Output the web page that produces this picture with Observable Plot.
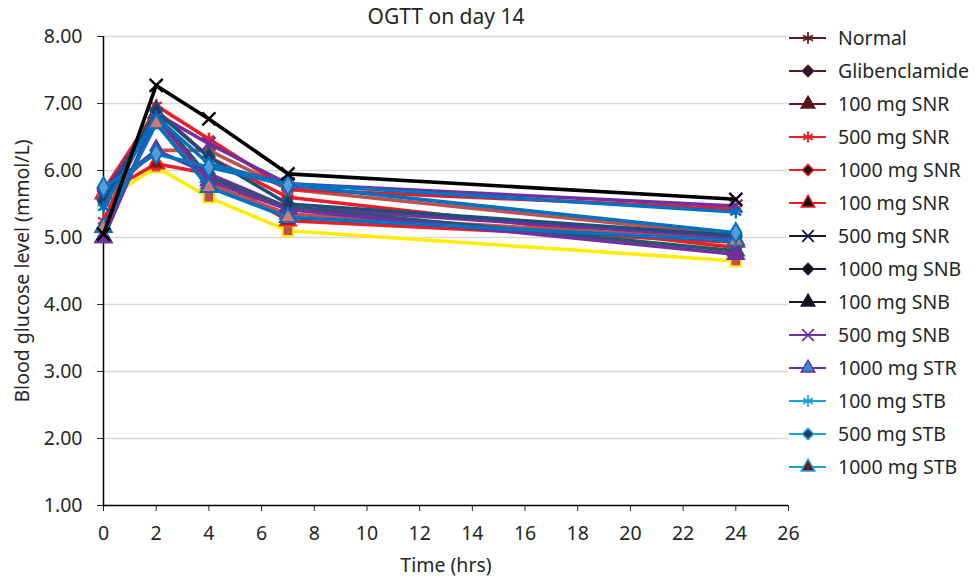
<!DOCTYPE html>
<html>
<head>
<meta charset="utf-8">
<script src="https://cdn.jsdelivr.net/npm/d3@7"></script>
<script src="https://cdn.jsdelivr.net/npm/@observablehq/plot@0.6"></script>
<style>
  body { margin: 0; background: #fff; }
  #wrap { position: relative; width: 978px; height: 577px; font-family: "Noto Sans", sans-serif; }
  #legend { position: absolute; left: 0; top: 0; }
</style>
</head>
<body>
<div id="wrap"></div>
<script>
// ---- data ----
const times = [0, 2, 4, 7, 24];
const xTicks = [0, 2, 4, 6, 8, 10, 12, 14, 16, 18, 20, 22, 24, 26];
const yTicks = [1, 2, 3, 4, 5, 6, 7, 8];

const seriesNames = ["Unlabelled", "Normal", "Glibenclamide", "100 mg SNR", "500 mg SNR", "1000 mg SNR",
  "100 mg SNR (b)", "500 mg SNR (b)", "1000 mg SNB", "100 mg SNB", "500 mg SNB", "1000 mg STR",
  "100 mg STB", "500 mg STB", "1000 mg STB"];

const unlabelled   = [5.55, 6.05, 5.60, 5.10, 4.65];
const normal       = [5.60, 6.30, 6.30, 5.72, 5.03];
const glibenclamide= [5.70, 6.90, 6.20, 5.60, 4.85];
const snr100       = [5.65, 6.10, 5.95, 5.25, 4.93];
const snr500       = [5.25, 6.97, 6.47, 5.72, 5.43];
const snr1000      = [5.15, 6.75, 5.80, 5.35, 4.97];
const snr100b      = [5.70, 6.30, 5.95, 5.45, 5.00];
const snr500b      = [5.05, 7.27, 6.77, 5.95, 5.57];
const snb1000      = [5.55, 6.88, 6.20, 5.50, 5.03];
const snb100       = [5.00, 6.85, 5.90, 5.45, 4.80];
const snb500       = [5.65, 6.85, 6.40, 5.80, 5.47];
const str1000      = [5.00, 6.80, 5.85, 5.42, 4.75];
const stb100       = [5.45, 6.80, 6.10, 5.80, 5.38];
const stb500       = [5.75, 6.25, 6.05, 5.78, 5.07];
const stb1000      = [5.15, 6.70, 5.75, 5.30, 4.95];

const seriesValues = [unlabelled, normal, glibenclamide, snr100, snr500, snr1000, snr100b, snr500b,
  snb1000, snb100, snb500, str1000, stb100, stb500, stb1000];

const legendLabels = ["Normal", "Glibenclamide", "100 mg SNR", "500 mg SNR", "1000 mg SNR", "100 mg SNR",
  "500 mg SNR", "1000 mg SNB", "100 mg SNB", "500 mg SNB", "1000 mg STR", "100 mg STB", "500 mg STB", "1000 mg STB"];

// ---- styles (plot) ----
const plotStyle = {
  "Unlabelled":     {line: "#ffee00", symbol: "square", fill: "#c0504d", stroke: "#ffee00"},
  "Normal":         {line: "#c0504d", symbol: "diamond", fill: "#c0504d", stroke: "#c0504d"},
  "Glibenclamide":  {line: "#ee1c25", symbol: "diamond", fill: "#1f3864", stroke: "#ee1c25"},
  "100 mg SNR":     {line: "#ee1c25", symbol: "triangle", fill: "#8b1010", stroke: "#ee1c25"},
  "500 mg SNR":     {line: "#ee1c25", symbol: "asterisk", fill: "none", stroke: "#ee1c25"},
  "1000 mg SNR":    {line: "#c0504d", symbol: "triangle", fill: "#d9776f", stroke: "#c0504d"},
  "100 mg SNR (b)": {line: "#7030a0", symbol: "diamond", fill: "#7030a0", stroke: "#7030a0"},
  "500 mg SNR (b)": {line: "#000000", symbol: "times", fill: "none", stroke: "#000000"},
  "1000 mg SNB":    {line: "#1f4e79", symbol: "diamond", fill: "#1f3864", stroke: "#1f4e79"},
  "100 mg SNB":     {line: "#215968", symbol: "triangle", fill: "#215968", stroke: "#215968"},
  "500 mg SNB":     {line: "#7030a0", symbol: "times", fill: "none", stroke: "#7030a0"},
  "1000 mg STR":    {line: "#7030a0", symbol: "triangle", fill: "#7030a0", stroke: "#7030a0"},
  "100 mg STB":     {line: "#0070c0", symbol: "asterisk", fill: "none", stroke: "#0070c0"},
  "500 mg STB":     {line: "#0070c0", symbol: "diamond", fill: "#5b9bd5", stroke: "#0070c0"},
  "1000 mg STB":    {line: "#0070c0", symbol: "triangle", fill: "#d9776f", stroke: "#0070c0"}
};
const drawOrder = ["Unlabelled", "100 mg SNR", "Glibenclamide", "1000 mg SNR", "Normal", "100 mg SNR (b)",
  "100 mg SNB", "1000 mg STR", "500 mg SNR", "500 mg SNB", "1000 mg SNB", "100 mg STB", "1000 mg STB", "500 mg STB", "500 mg SNR (b)"];

const rows = [];
seriesNames.forEach((s, i) => times.forEach((t, j) => rows.push({series: s, t, v: seriesValues[i][j]})));

const FS = 19.5;
const marks = [
  Plot.ruleY(yTicks.slice(1), {stroke: "#d9d9d9", strokeWidth: 1.3}),
  Plot.axisY(yTicks, {tickFormat: d => d.toFixed(2), tickSize: 6, tickPadding: 15, fontSize: FS, label: null}),
  Plot.axisX(xTicks, {tickSize: 6, tickPadding: 15, fontSize: FS, label: null}),
  Plot.ruleX([0], {stroke: "#000", strokeWidth: 1.5}),
  Plot.ruleY([1], {stroke: "#000", strokeWidth: 1.5})
];
for (const s of drawOrder) {
  const st = plotStyle[s];
  const d = rows.filter(r => r.series === s);
  marks.push(Plot.line(d, {x: "t", y: "v", stroke: st.line, strokeWidth: 3.6}));
  const filled = st.fill !== "none";
  marks.push(Plot.dot(d, {x: "t", y: "v", symbol: () => st.symbol, r: 6,
    fill: filled ? st.fill : "none", stroke: st.stroke, strokeWidth: filled ? 2 : 2.4}));
}
marks.push(
  Plot.text(["OGTT on day 14"], {frameAnchor: "top", dy: -27, fontSize: 21, fill: "#262626"}),
  Plot.text(["Time (hrs)"], {frameAnchor: "bottom", lineAnchor: "middle", dy: 60, fontSize: FS, fill: "#262626"}),
  Plot.text(["Blood glucose level (mmol/L)"], {frameAnchor: "left", textAnchor: "middle", dx: -81, rotate: -90, fontSize: FS, fill: "#262626"})
);

const chart = Plot.plot({
  width: 978, height: 577,
  marginLeft: 103, marginRight: 190, marginTop: 36, marginBottom: 72,
  style: {fontFamily: "Noto Sans, sans-serif", fontSize: FS + "px", color: "#262626", background: "#fff"},
  x: {domain: [0, 26]},
  y: {domain: [1, 8]},
  symbol: {type: "identity"},
  marks
});
const wrap = document.getElementById("wrap");
wrap.appendChild(chart);

// ---- legend (HTML SVG overlay) ----
const legendStyle = [
  {line: "#5a1a1a", symbol: "asterisk", fill: "none", stroke: "#5a1a1a"},
  {line: "#5a1a1a", symbol: "diamond", fill: "#1a1a40", stroke: "#5a1a1a"},
  {line: "#5a1a1a", symbol: "triangle", fill: "#5a1010", stroke: "#5a1a1a"},
  {line: "#ee1c25", symbol: "asterisk", fill: "none", stroke: "#ee1c25"},
  {line: "#ee1c25", symbol: "diamond", fill: "#111", stroke: "#ee1c25"},
  {line: "#ee1c25", symbol: "triangle", fill: "#111", stroke: "#ee1c25"},
  {line: "#1a1a40", symbol: "times", fill: "none", stroke: "#1a1a40"},
  {line: "#1a1a40", symbol: "diamond", fill: "#111", stroke: "#1a1a40"},
  {line: "#1a1a40", symbol: "triangle", fill: "#111", stroke: "#1a1a40"},
  {line: "#7030a0", symbol: "times", fill: "none", stroke: "#7030a0"},
  {line: "#7030a0", symbol: "triangle", fill: "#2a8fd8", stroke: "#7030a0"},
  {line: "#1ea0e0", symbol: "asterisk", fill: "none", stroke: "#1ea0e0"},
  {line: "#1ea0e0", symbol: "diamond", fill: "#1f3864", stroke: "#1ea0e0"},
  {line: "#1ea0e0", symbol: "triangle", fill: "#6b1a1a", stroke: "#1ea0e0"}
];
const symMap = {asterisk: d3.symbolAsterisk, diamond: d3.symbolDiamond2, triangle: d3.symbolTriangle, times: d3.symbolTimes};
const svg = d3.select(wrap).append("svg").attr("id", "legend").attr("width", 978).attr("height", 577);
legendLabels.forEach((lab, i) => {
  const y = 38 + i * 33;
  const st = legendStyle[i];
  const g = svg.append("g");
  g.append("line").attr("x1", 789).attr("x2", 826).attr("y1", y).attr("y2", y).attr("stroke", st.line).attr("stroke-width", 2);
  const filled = st.fill !== "none";
  g.append("path").attr("transform", `translate(808,${y})`)
    .attr("d", d3.symbol(symMap[st.symbol], filled ? 80 : 90)())
    .attr("fill", filled ? st.fill : "none").attr("stroke", st.stroke).attr("stroke-width", filled ? 1.5 : 1.8);
  g.append("text").attr("x", 838).attr("y", y).attr("dy", "0.35em").attr("font-size", FS)
    .attr("font-family", "Noto Sans, sans-serif").attr("fill", "#262626").text(lab);
});
</script>
</body>
</html>
